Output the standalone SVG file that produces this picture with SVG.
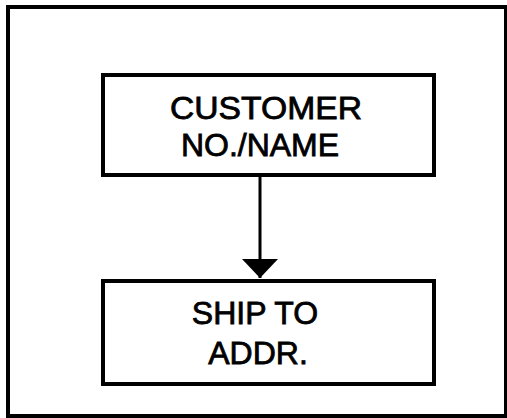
<svg xmlns="http://www.w3.org/2000/svg" width="507" height="418" viewBox="0 0 507 418">
<style>
.box{fill:#fff;stroke:#000;stroke-width:4}
.lbl{font-family:"Liberation Sans",Arial,sans-serif;font-size:32px;fill:#000;stroke:#000;stroke-width:0.8;text-anchor:middle}
</style>
<defs>
<marker id="ah" markerUnits="userSpaceOnUse" markerWidth="20" markerHeight="36" refX="19" refY="18" orient="auto">
<path d="M0,0 L19,18 L0,36 Z" fill="#000"/>
</marker>
</defs>
<rect x="0" y="0" width="507" height="418" fill="#fff"/>
<rect id="frame" x="8" y="7" width="498" height="409" fill="none" stroke="#000" stroke-width="4"/>
<g id="connectors">
<line x1="260" y1="177" x2="260" y2="278" stroke="#000" stroke-width="3" marker-end="url(#ah)"/>
</g>
<g id="node-customer">
<rect class="box" x="103" y="75" width="331" height="100"/>
<text class="lbl" x="266" y="119" textLength="192" lengthAdjust="spacingAndGlyphs">CUSTOMER</text>
<text class="lbl" x="260" y="156">NO./NAME</text>
</g>
<g id="node-ship">
<rect class="box" x="103" y="281" width="331" height="103"/>
<text class="lbl" x="255" y="324">SHIP TO</text>
<text class="lbl" x="258" y="364">ADDR.</text>
</g>
</svg>
